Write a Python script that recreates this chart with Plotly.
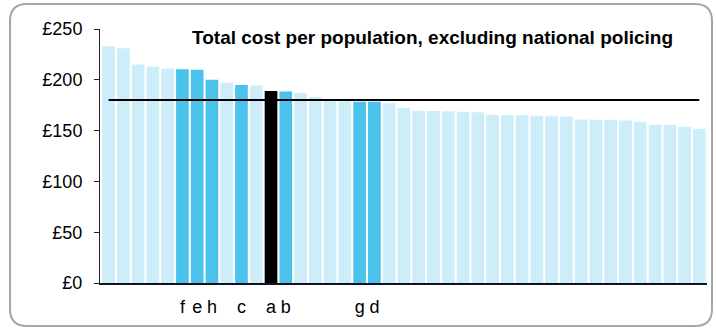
import plotly.graph_objects as go

# ---- data ----
values = [233, 231, 215, 213, 211, 210.5, 210, 200, 197, 195, 194.5, 189, 188.5, 187,
          183, 179, 179, 178.5, 178.5, 177, 172.5, 169.5, 169.3, 169, 168.6, 168,
          165.5, 165.2, 165.2, 164.5, 164.2, 164, 161, 160.6, 160.6, 160, 158.6,
          155.7, 155.7, 153.7, 151.7]
labels = ["", "", "", "", "", "f", "e", "h", "", "c", "", "a", "b", "", "", "", "",
          "g", "d", "", "", "", "", "", "", "", "", "", "", "", "", "", "", "", "",
          "", "", "", "", "", ""]
highlight = "a"
average = 180
y_ticks = [0, 50, 100, 150, 200, 250]
y_ticktext = ["£" + str(v) for v in y_ticks]
title = "Total cost per population, excluding national policing"

LIGHT = "#CDEDF9"
DARK = "#4BC2EB"
BLACK = "#000000"

x = list(range(len(values)))
colors = [BLACK if l == highlight else (DARK if l else LIGHT) for l in labels]
tickvals = [i for i, l in enumerate(labels) if l]
ticktext = [l for l in labels if l]

W, H = 716, 330
L, R, T, B = 100, 9, 29, 47
pw, ph = W - L - R, H - T - B


def px(xp):
    return (xp - L) / pw


def py(yp):
    return (H - B - yp) / ph


fig = go.Figure()
fig.add_trace(go.Bar(x=x, y=values, marker=dict(color=colors, line=dict(width=0)),
                     showlegend=False, hoverinfo="y"))
fig.add_trace(go.Scatter(x=[x[0], x[-1]], y=[average, average], mode="lines",
                         line=dict(color="black", width=2), showlegend=False,
                         hoverinfo="skip"))

font = "Liberation Sans, Arial, sans-serif"

# rounded border
x0, x1, y0, y1, r = 10, 712, 4, 326, 17
path = (f"M {px(x0 + r)},{py(y0)} L {px(x1 - r)},{py(y0)} "
        f"Q {px(x1)},{py(y0)} {px(x1)},{py(y0 + r)} "
        f"L {px(x1)},{py(y1 - r)} Q {px(x1)},{py(y1)} {px(x1 - r)},{py(y1)} "
        f"L {px(x0 + r)},{py(y1)} Q {px(x0)},{py(y1)} {px(x0)},{py(y1 - r)} "
        f"L {px(x0)},{py(y0 + r)} Q {px(x0)},{py(y0)} {px(x0 + r)},{py(y0)} Z")
fig.add_shape(type="path", path=path, xref="paper", yref="paper",
              line=dict(color="#A6A6A6", width=2), layer="above")

fig.add_annotation(text=f"<b>{title}</b>", xref="paper", yref="paper",
                   x=px(433), y=py(37), xanchor="center", yanchor="middle",
                   showarrow=False, font=dict(family=font, size=19, color="black"))

fig.update_layout(
    width=W, height=H,
    margin=dict(l=L, r=R, t=T, b=B),
    paper_bgcolor="white", plot_bgcolor="white",
    bargap=0.14,
    font=dict(family=font, size=17, color="black"),
    xaxis=dict(range=[-0.58, 40.52], tickmode="array", tickvals=tickvals,
               ticktext=ticktext, showgrid=False, zeroline=False, showline=True,
               linecolor="#111122", linewidth=1.5, ticks="",
               tickfont=dict(size=18), ticklabelstandoff=7),
    yaxis=dict(range=[0, 250], tickmode="array", tickvals=y_ticks,
               ticktext=y_ticktext, showgrid=False,
               zeroline=False, showline=True, linecolor="#222222", linewidth=1,
               ticks="outside", ticklen=5, tickcolor="#222222",
               tickfont=dict(size=18), ticklabelstandoff=8),
)

fig.write_html("out.html", config={"displayModeBar": False},
               post_script="document.body.style.margin='0';")
